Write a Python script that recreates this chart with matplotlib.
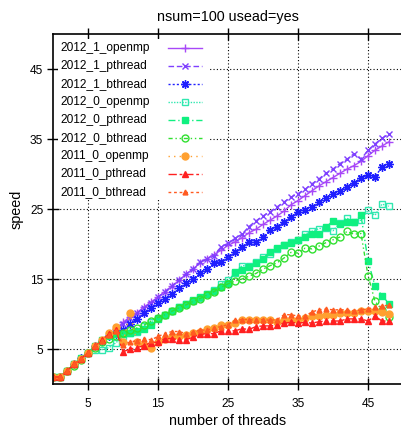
import matplotlib
matplotlib.use("Agg")
import matplotlib.pyplot as plt
from matplotlib.lines import Line2D
from matplotlib.patches import Rectangle

plt.rcParams['font.family'] = ['Liberation Sans', 'DejaVu Sans']

threads = list(range(49))

omp_2012_1 = [1.0, 1.0, 1.9, 2.8, 3.7, 4.5, 5.4, 6.2, 7.0, 7.9, 8.8,
              9.6, 10.2, 11.0, 11.7, 12.4, 13.2, 14.0, 14.8, 15.7, 16.4,
              17.3, 17.9, 18.5, 19.1, 19.8, 20.3, 20.9, 21.6, 22.1, 22.8,
              23.4, 24.0, 24.7, 25.6, 26.2, 26.9, 27.6, 28.3, 28.9, 29.5,
              30.1, 30.7, 31.2, 31.8, 32.6, 33.4, 34.0, 34.6]
pth_2012_1 = [1.0, 1.0, 1.9, 2.8, 3.7, 4.5, 5.4, 6.2, 7.0, 7.8, 8.6,
              9.4, 10.1, 10.9, 11.6, 12.4, 13.2, 14.0, 14.9, 15.7, 16.5,
              17.4, 17.8, 18.3, 19.6, 20.1, 20.8, 21.4, 22.5, 23.3, 24.0,
              24.6, 25.3, 26.0, 26.7, 27.2, 27.8, 28.6, 29.3, 30.1, 30.7,
              31.5, 32.1, 32.9, 32.1, 33.4, 34.3, 35.1, 35.7]
bth_2012_1 = [1.0, 1.0, 1.9, 2.8, 3.7, 4.5, 5.4, 6.2, 6.9, 7.2, 7.7,
              8.6, 9.3, 10.1, 10.9, 11.6, 12.2, 12.9, 13.7, 14.4, 15.0,
              15.8, 16.4, 17.3, 17.5, 18.2, 18.9, 19.6, 20.3, 20.3, 21.0,
              22.0, 22.5, 23.2, 23.8, 24.6, 24.9, 25.3, 26.0, 26.6, 27.1,
              27.6, 28.1, 28.7, 29.5, 29.8, 29.6, 31.0, 31.4]
omp_2012_0 = [1.0, 1.0, 1.9, 2.8, 3.6, 4.4, 4.9, 4.9, 5.2, 5.9, 6.8,
              7.3, 7.5, 8.3, 8.9, 9.4, 9.9, 10.4, 11.0, 11.4, 11.9,
              12.3, 12.8, 13.4, 14.3, 14.9, 15.8, 16.9, 16.9, 17.5, 18.1,
              18.6, 19.3, 19.9, 20.3, 20.6, 21.4, 21.8, 22.2, 22.3, 21.9,
              23.0, 23.7, 23.1, 23.4, 24.8, 24.1, 25.7, 25.4]
pth_2012_0 = [1.0, 1.0, 1.9, 2.8, 3.7, 4.5, 5.4, 6.3, 6.9, 7.1, 7.2,
              7.3, 7.6, 7.9, 8.5, 9.3, 9.9, 10.4, 11.0, 11.4, 12.0,
              12.4, 12.9, 13.3, 13.9, 14.4, 16.0, 16.3, 16.7, 17.3, 17.9,
              18.9, 19.4, 19.9, 20.1, 20.6, 21.0, 21.4, 21.5, 22.4, 23.3,
              22.9, 23.2, 23.2, 24.1, 17.6, 14.0, 12.6, 11.5]
bth_2012_0 = [1.0, 1.0, 1.8, 2.6, 3.5, 4.4, 5.2, 6.0, 6.5, 6.8, 7.3,
              7.7, 8.0, 8.4, 9.0, 9.5, 9.9, 10.4, 10.9, 11.3, 11.8,
              12.2, 12.7, 13.2, 13.8, 14.3, 14.7, 15.0, 15.4, 15.8, 16.4,
              16.9, 17.3, 18.0, 18.8, 18.7, 19.4, 19.3, 19.7, 20.2, 20.6,
              21.0, 21.8, 21.4, 21.5, 15.5, 11.8, 10.6, 9.6]
omp_2011_0 = [1.0, 1.0, 1.9, 2.8, 3.6, 4.5, 5.4, 6.3, 7.3, 8.2, 6.0,
              10.1, 6.0, 5.6, 5.1, 6.0, 6.4, 6.8, 6.9, 7.0, 7.3,
              7.5, 7.8, 8.0, 8.4, 8.5, 8.7, 9.1, 9.1, 9.1, 9.1,
              9.1, 8.9, 9.1, 9.1, 9.2, 9.4, 9.7, 9.7, 9.8, 9.8,
              10.1, 10.2, 10.2, 10.4, 10.5, 10.4, 10.3, 10.0]
pth_2011_0 = [1.0, 1.0, 1.9, 2.8, 3.6, 4.5, 5.4, 6.3, 7.1, 7.7, 4.6,
              5.0, 5.2, 5.5, 5.9, 6.0, 6.5, 6.5, 6.3, 6.3, 6.7,
              7.1, 7.2, 7.2, 7.6, 7.6, 7.6, 7.9, 7.8, 8.2, 8.3,
              8.3, 8.4, 8.7, 8.8, 8.7, 8.8, 8.7, 8.9, 9.0, 9.0,
              9.0, 9.3, 9.3, 9.3, 9.0, 9.7, 9.0, 9.0]
bth_2011_0 = [1.0, 1.0, 1.9, 2.8, 3.6, 4.5, 5.4, 6.2, 7.0, 7.6, 5.6,
              6.0, 6.2, 6.5, 6.3, 6.8, 7.2, 7.5, 7.5, 7.2, 7.4,
              7.7, 7.7, 8.0, 8.2, 8.5, 9.1, 9.2, 9.2, 9.1, 9.2,
              9.1, 9.2, 9.9, 9.9, 9.7, 9.7, 10.3, 10.6, 10.7, 10.6,
              10.6, 10.6, 10.4, 10.6, 10.7, 11.0, 11.1, 11.3]

labels = ["2012_1_openmp", "2012_1_pthread", "2012_1_bthread",
          "2012_0_openmp", "2012_0_pthread", "2012_0_bthread",
          "2011_0_openmp", "2011_0_pthread", "2011_0_bthread"]
series = [omp_2012_1, pth_2012_1, bth_2012_1,
          omp_2012_0, pth_2012_0, bth_2012_0,
          omp_2011_0, pth_2011_0, bth_2011_0]

# gnuplot-like styles: color, dashes, marker, fill, marker size
styles = [
    ("#a848f8", "-", "+", "full", 6),
    ("#7f40ff", (0, (4, 2)), "x", "full", 5),
    ("#1f1fff", (0, (1.5, 1.5)), (8, 2, 0), "full", 6),
    ("#30e8b0", (0, (1, 1)), "s", "none", 5),
    ("#10f080", (0, (5, 2, 1, 2)), "s", "full", 5),
    ("#30e030", (0, (3, 2, 1, 2, 1, 2)), "o", "none", 5),
    ("#ffa030", (0, (1, 3)), "o", "full", 5),
    ("#ff2020", (0, (6, 2, 2, 2)), "^", "full", 5),
    ("#ff5a20", (0, (2, 2)), "^", "full", 3.5),
]

fig = plt.figure(figsize=(4.02, 4.28), dpi=100)
ax = fig.add_axes([53 / 402, 44 / 428, 350 / 402, 350 / 428])

for vals, (col, ls, mk, fs, ms) in zip(series, styles):
    ax.plot(threads, vals, color=col, linestyle=ls, linewidth=1.0,
            marker=mk, markersize=ms, fillstyle=fs, markeredgewidth=1.0)

# gnuplot style key: opaque box, label left, sample right
ax.add_patch(Rectangle((0.015, 0.526), 0.43, 0.46, transform=ax.transAxes,
                       facecolor="white", edgecolor="none", zorder=4))
for i, (lab, (col, ls, mk, fs, ms)) in enumerate(zip(labels, styles)):
    y = 0.96 - i * 0.0514
    ax.text(0.02, y, lab, transform=ax.transAxes, ha="left", va="center",
            fontsize=8.6, zorder=6)
    ax.add_line(Line2D([0.3286, 0.4257], [y, y], transform=ax.transAxes,
                       color=col, linestyle=ls, linewidth=1.0, zorder=6))
    ax.add_line(Line2D([0.377], [y], transform=ax.transAxes, color=col,
                       linestyle="none", marker=mk, markersize=ms,
                       fillstyle=fs, markeredgewidth=1.0, zorder=6))

ax.set_xlim(0, 50)
ax.set_ylim(0, 50)
ax.set_xticks([5, 15, 25, 35, 45])
ax.set_yticks([5, 15, 25, 35, 45])
ax.grid(True, color="black", linestyle=(0, (1, 2)), linewidth=0.8)
ax.tick_params(direction="inout", length=8, width=1, labelsize=8.6, pad=3,
               top=True)
ax.tick_params(axis="x", pad=6)
for s in ["left", "bottom", "top"]:
    ax.spines[s].set_linewidth(1.2)
ax.spines["right"].set_visible(False)

ax.set_title("nsum=100 usead=yes", fontsize=10.4, pad=9)
ax.set_xlabel("number of threads", fontsize=10.4, labelpad=3)
ax.set_ylabel("speed", fontsize=10.4, labelpad=5)

fig.savefig("out.png", dpi=100)
